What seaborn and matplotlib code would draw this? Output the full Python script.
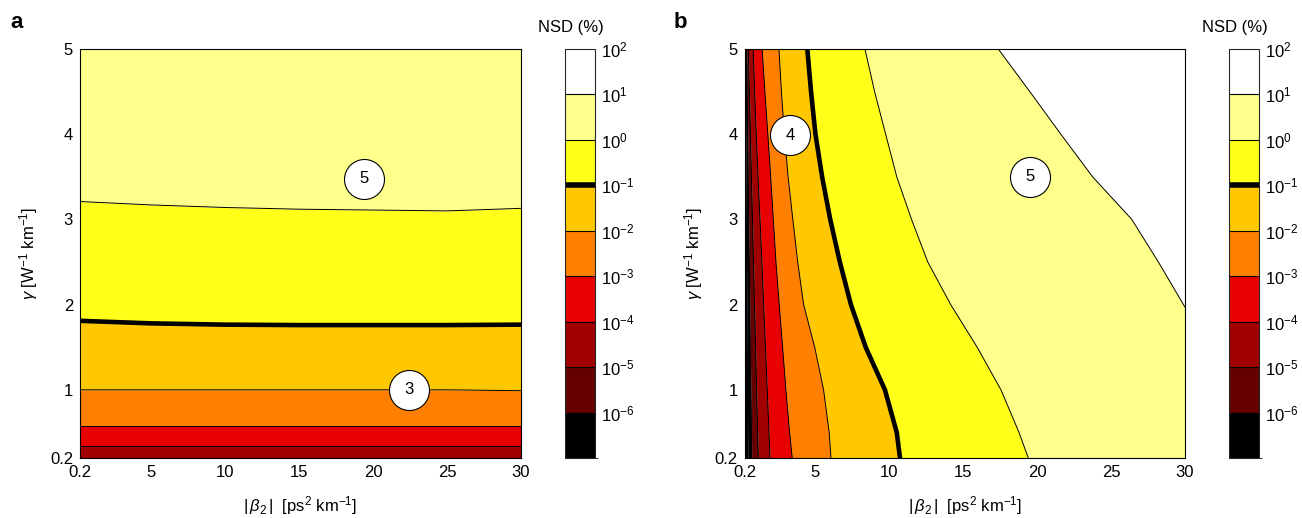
import numpy as np
import matplotlib
matplotlib.use("Agg")
import matplotlib.pyplot as plt
import seaborn as sns
from matplotlib.colors import ListedColormap, BoundaryNorm
from matplotlib.cm import ScalarMappable

sns.set_style("white")
plt.rcParams["font.family"] = ["Liberation Sans", "DejaVu Sans"]
plt.rcParams["mathtext.fontset"] = "custom"
plt.rcParams["mathtext.rm"] = "Liberation Sans"
plt.rcParams["mathtext.it"] = "Liberation Sans:italic"
plt.rcParams["mathtext.bf"] = "Liberation Sans:bold"
for k in ["text.color", "axes.labelcolor", "xtick.color", "ytick.color"]:
    plt.rcParams[k] = "black"

# NSD colour levels, 10^-7 ... 10^2 (%)
level_exp = [-7, -6, -5, -4, -3, -2, -1, 0, 1, 2]
level_colors = ["#000000", "#660000", "#a00000", "#e80000", "#ff8000",
                "#ffc800", "#ffff1a", "#ffff8c", "#ffffff"]

# panel a: contour lines as gamma(|beta2|)
beta_a = [0.2, 5, 10, 15, 20, 25, 30]
a_1e4 = [0.34, 0.34, 0.34, 0.34, 0.34, 0.34, 0.34]
a_1e3 = [0.57, 0.57, 0.57, 0.57, 0.57, 0.57, 0.57]
a_1e2 = [1.0, 1.0, 1.0, 1.0, 1.0, 1.0, 0.99]
a_1e1 = [1.81, 1.78, 1.765, 1.76, 1.76, 1.76, 1.765]
a_1e0 = [3.21, 3.17, 3.14, 3.12, 3.11, 3.10, 3.13]

# panel b: contour lines as |beta2|(gamma)
gamma_b = [0.2, 0.5, 1.0, 1.5, 2.0, 2.5, 3.0, 3.5, 4.0, 4.5, 5.0]
b_1e7 = [0.42, 0.41, 0.40, 0.38, 0.36, 0.34, 0.32, 0.30, 0.28, 0.26, 0.25]
b_1e6 = [0.69, 0.67, 0.63, 0.59, 0.55, 0.52, 0.48, 0.45, 0.42, 0.38, 0.35]
b_1e5 = [1.13, 1.09, 1.02, 0.95, 0.88, 0.81, 0.74, 0.67, 0.60, 0.53, 0.46]
b_1e4 = [1.93, 1.86, 1.74, 1.62, 1.50, 1.38, 1.25, 1.12, 1.00, 0.89, 0.79]
b_1e3 = [3.43, 3.25, 3.00, 2.78, 2.55, 2.33, 2.15, 1.97, 1.78, 1.58, 1.39]
b_1e2 = [6.05, 5.93, 5.55, 4.95, 4.20, 3.80, 3.47, 3.15, 2.90, 2.70, 2.53]
b_1e1 = [10.72, 10.5, 9.7, 8.4, 7.4, 6.65, 6.0, 5.45, 5.0, 4.7, 4.45]
b_1e0 = [19.4, 18.77, 17.55, 15.94, 14.15, 12.6, 11.5, 10.5, 9.75, 9.0, 8.35]
gamma_w = [1.97, 2.5, 3.0, 3.5, 4.0, 4.5, 5.0]
b_10 = [30, 28.2, 26.4, 23.75, 21.6, 19.5, 17.37]

# circled markers (|beta2|, gamma, text)
marks_a = [(19.4, 3.48, "5"), (22.4, 1.0, "3")]
marks_b = [(3.28, 3.99, "4"), (19.5, 3.50, "5")]

xticks = [0.2, 5, 10, 15, 20, 25, 30]
yticks = [0.2, 1, 2, 3, 4, 5]

W, H = 1302, 518
fig = plt.figure(figsize=(W / 100, H / 100), dpi=100)


def box(x0, y0, x1, y1):
    return [x0 / W, 1 - y1 / H, (x1 - x0) / W, (y1 - y0) / H]


ax_a = fig.add_axes(box(80, 49, 521, 458))
ax_b = fig.add_axes(box(744.5, 49, 1185, 458))
cax_a = fig.add_axes(box(565, 49, 595, 458))
cax_b = fig.add_axes(box(1229, 49, 1259, 458))

thin = 0.7
thick = 3.3
fs = 12

# ---- panel a
bounds_a = [[0.2] * 7, a_1e4, a_1e3, a_1e2, a_1e1, a_1e0, [5] * 7]
cols_a = level_colors[2:8]
for lo, hi, c in zip(bounds_a[:-1], bounds_a[1:], cols_a):
    ax_a.fill_between(beta_a, lo, hi, color=c, lw=0)
for line in [a_1e4, a_1e3, a_1e2, a_1e0]:
    sns.lineplot(x=beta_a, y=line, color="k", lw=thin, ax=ax_a, estimator=None)
sns.lineplot(x=beta_a, y=a_1e1, color="k", lw=thick, ax=ax_a, estimator=None)

# ---- panel b
lines_b = [b_1e7, b_1e6, b_1e5, b_1e4, b_1e3, b_1e2, b_1e1, b_1e0]
bounds_b = [[0] * 11] + lines_b + [[30] * 11]
cols_b = ["#000000"] + level_colors[:8]
for lo, hi, c in zip(bounds_b[:-1], bounds_b[1:], cols_b):
    ax_b.fill_betweenx(gamma_b, lo, hi, color=c, lw=0)
ax_b.fill_betweenx(gamma_w, b_10, [30] * len(gamma_w), color="#ffffff", lw=0)
for line in lines_b:
    lw = thick if line is b_1e1 else thin
    sns.lineplot(x=line, y=gamma_b, orient="y", color="k", lw=lw,
                 ax=ax_b, estimator=None)
sns.lineplot(x=b_10, y=gamma_w, orient="y", color="k", lw=thin,
             ax=ax_b, estimator=None)

for ax, marks, letter, lx in [(ax_a, marks_a, "a", 10), (ax_b, marks_b, "b", 674)]:
    for bx, gy, t in marks:
        ax.scatter([bx], [gy], s=830, facecolor="white", edgecolor="k",
                   lw=0.8, zorder=5)
        ax.text(bx, gy, t, ha="center", va="center", fontsize=fs, zorder=6)
    ax.set_xlim(0.2, 30)
    ax.set_ylim(0.2, 5)
    ax.set_xticks(xticks)
    ax.set_xticklabels([str(v) for v in xticks])
    ax.set_yticks(yticks)
    ax.set_yticklabels([str(v) for v in yticks])
    ax.tick_params(length=0, labelsize=fs, pad=5)
    ax.set_xlabel(r"$|\,\beta_2\,|$  [ps$^2$ km$^{-1}$]", fontsize=fs, labelpad=10)
    ax.set_ylabel(r"$\gamma$ [W$^{-1}$ km$^{-1}$]", fontsize=fs, labelpad=7)
    for s in ax.spines.values():
        s.set_color("k")
        s.set_linewidth(0.8)
    fig.text(lx / W, 1 - 22 / H, letter, fontsize=16, fontweight="bold",
             ha="left", va="center")

# ---- colour bars
cmap = ListedColormap(level_colors)
norm = BoundaryNorm(level_exp, cmap.N)
for cax in [cax_a, cax_b]:
    cb = fig.colorbar(ScalarMappable(norm=norm, cmap=cmap), cax=cax,
                      drawedges=True)
    cb.dividers.set_color("k")
    cb.dividers.set_linewidth(0.8)
    cb.outline.set_linewidth(0.8)
    cb.set_ticks(level_exp[1:])
    cb.set_ticklabels([f"$10^{{{e}}}$" if e >= 0 else f"$10^{{\u2212{-e}}}$"
                       for e in level_exp[1:]])
    cax.tick_params(length=0, labelsize=fs, pad=4)
    cax.axhline(-1, color="k", lw=4)
    cax.text(0.2, 1.035, "NSD (%)", transform=cax.transAxes, ha="center",
             va="bottom", fontsize=fs)

fig.savefig("out.png", dpi=100)
